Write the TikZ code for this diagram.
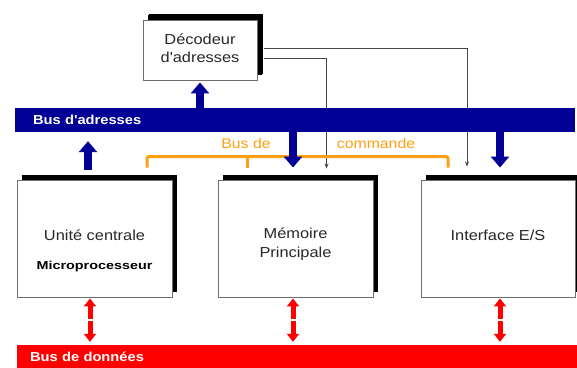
\documentclass[tikz,border=0pt]{standalone}
\usepackage{fontspec}
\setmainfont{Liberation Sans}
\newfontfamily\mainf[FakeStretch=1.13]{Liberation Sans}
\newfontfamily\microf[FakeStretch=1.25]{Liberation Sans}
\usetikzlibrary{arrows.meta,shadows,calc,backgrounds}
\definecolor{busblue}{RGB}{0,0,150}
\definecolor{busred}{RGB}{255,0,0}
\definecolor{cmdorange}{RGB}{255,160,20}
\definecolor{boxline}{RGB}{110,110,110}
\definecolor{thinline}{RGB}{70,70,70}
\definecolor{txt}{RGB}{40,40,40}
\tikzset{
  unitbox/.style={draw=boxline, line width=0.9pt, fill=white, inner sep=0pt,
    minimum width=155pt, minimum height=117pt,
    general shadow={fill=black, shadow xshift=5pt, shadow yshift=5pt}},
  boxtext/.style={font=\mainf\fontsize{14.5}{18.5}\selectfont, text=txt, align=center, inner sep=0pt},
  bustext/.style={font=\mainf\fontsize{13}{15}\selectfont\bfseries, text=white, align=left,
    minimum height=24pt, inner ysep=0pt},
  bigblue/.style={draw=busblue, line width=8pt, -{Triangle[width=18pt,length=11pt]}},
  redarr/.style={draw=busred, line width=5pt, -{Triangle[width=12pt,length=8pt]}},
  thinarr/.style={draw=thinline, line width=0.9pt, -{Stealth[length=5pt,width=4pt]}},
  cmdline/.style={draw=cmdorange, line width=3pt, rounded corners=2pt},
  cmdtext/.style={font=\mainf\fontsize{14}{16}\selectfont, text=cmdorange, inner sep=0pt}
}
\begin{document}
\begin{tikzpicture}[x=1pt,y=-1pt]
\useasboundingbox (0,0) rectangle (577,367);
% boxes
\node[unitbox, minimum width=114pt, minimum height=60pt,
  general shadow={fill=black, shadow xshift=6pt, shadow yshift=6pt}] (dec) at (200,50) {};
\node[boxtext] (decT) at ($(dec.center)+(0,-2)$) {Décodeur\\d'adresses};
\node[unitbox] (uc) at (94.5,238.5) {};
\node[unitbox] (mem) at (295.5,238.5) {};
\node[unitbox, minimum width=154pt] (io) at (498,238.5) {};
% buses
\node[bustext, fill=busblue, text width=524pt, inner xsep=18pt] (busA) at (295,120) {Bus d'adresses};
\node[bustext, fill=busred, text width=534pt, inner xsep=13pt, minimum height=23pt] (busD) at (297,356.5) {Bus de données};
% texts in boxes
\node[boxtext] (ucT1) at ($(uc.center)+(0,-3.5)$) {Unité centrale};
\node[inner sep=0pt, text=black, font=\microf\bfseries\fontsize{11.5}{14}\selectfont] (ucT2) at ($(uc.center)+(0,28.5)$) {Microprocesseur};
\node[boxtext] (memT) at ($(mem.center)+(0,5.5)$) {Mémoire\\Principale};
\node[boxtext] (ioT) at ($(io.center)+(0,-3.5)$) {Interface E/S};
% background layer: white, thin lines, command bus
\begin{pgfonlayer}{background}
\fill[white] (0,0) rectangle (577,367);
\draw[thinarr] ([xshift=7pt,yshift=2pt]dec.east) -| ($(io.north)+(-31,-13)$);
\draw[thinarr] ([xshift=7pt,yshift=-8pt]dec.east) -| ($(mem.north)+(31,-11)$);
\coordinate (c1) at ($(uc.north)+(52.5,-12)$);
\coordinate (c2) at ($(mem.north)+(-48.5,-12)$);
\coordinate (c3) at ($(io.north)+(-50,-12)$);
\draw[cmdline] (c1) -- ++(0,-11) -| (c3);
\draw[cmdline] (c2) -- ++(0,-11);
\end{pgfonlayer}
\node[cmdtext] (cmdA) at (246,143) {Bus de};
\node[cmdtext] (cmdB) at (376,143) {commande};
% address arrows
\draw[bigblue] (busA.north -| dec.south) -- ([yshift=-2pt]dec.south);
\coordinate (ucA) at ($(uc.north)+(-6.5,-10)$);
\draw[bigblue] (ucA) -- ($(ucA |- busA.south)+(0,9)$);
\coordinate (memA) at ($(mem.north)+(-2.5,-12)$);
\draw[bigblue] (busA.south -| memA) -- (memA);
\coordinate (ioA) at ($(io.north)+(2,-12)$);
\draw[bigblue] (busA.south -| ioA) -- (ioA);
% data arrows
\foreach \bx/\dx in {uc/-4.5, mem/-2.5, io/2} {
  \coordinate (\bx T) at ($(\bx.south)+(\dx,1)$);
  \coordinate (\bx B) at ($(\bx T |- busD.north)+(0,-3)$);
  \coordinate (\bx M) at ($(\bx T)!0.5!(\bx B)$);
  \draw[redarr] ($(\bx M)+(0,-1)$) -- (\bx T);
  \draw[redarr] ($(\bx M)+(0,1)$) -- (\bx B);
}
\end{tikzpicture}
\end{document}
